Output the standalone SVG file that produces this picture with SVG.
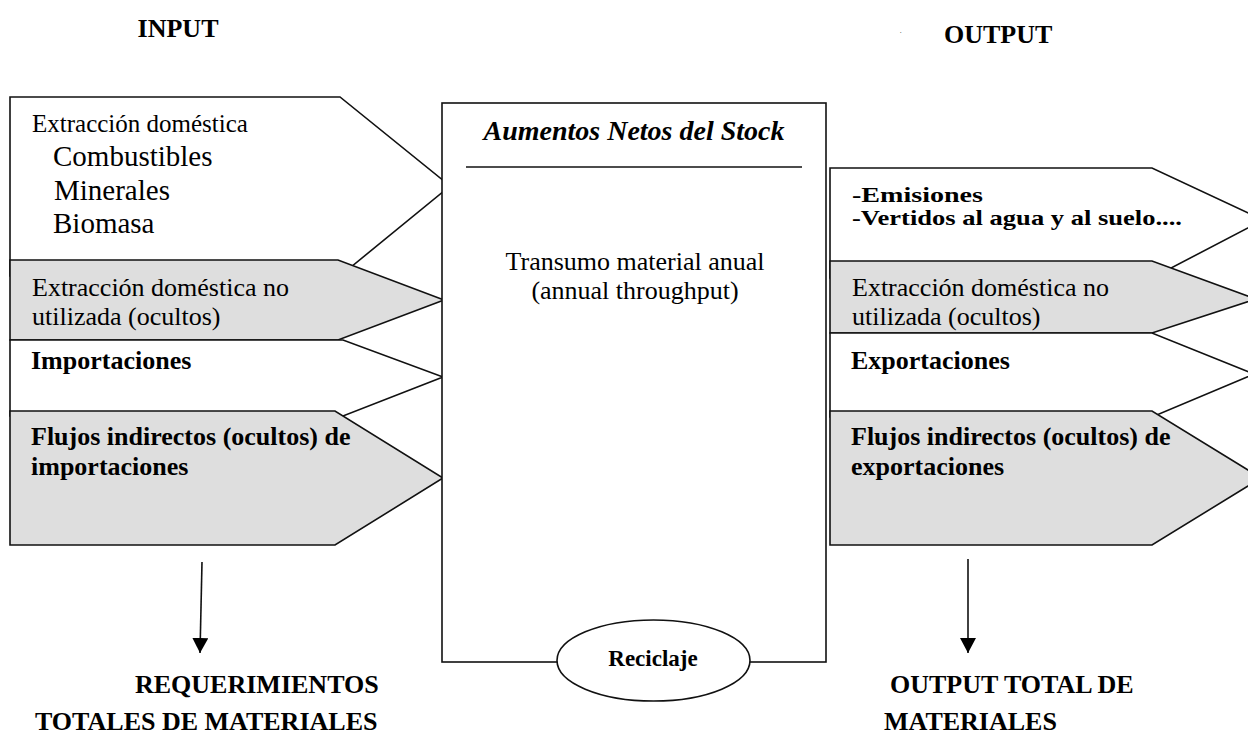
<svg xmlns="http://www.w3.org/2000/svg" width="1248" height="737" viewBox="0 0 1248 737">
<defs>
<style>
text{font-family:"Liberation Serif","Times New Roman",serif;fill:#000}
.shp{stroke:#111;stroke-width:1.6;stroke-linejoin:miter}
.w{fill:#fff}
.g{fill:#dedede}
.b{font-weight:bold}
.r25{font-size:25px}
.r26{font-size:26px}
.r29{font-size:29px}
.b26{font-size:26px;font-weight:bold}
.b22{font-size:22px;font-weight:bold}
.mid{text-anchor:middle}
.con{stroke:#111;stroke-width:1.6;fill:none}
</style>
<marker id="ah" markerUnits="userSpaceOnUse" markerWidth="16" markerHeight="18" refX="15" refY="8" orient="auto">
<path d="M0,0 L15,8 L0,16 z" fill="#000"/>
</marker>
</defs>
<rect width="1248" height="737" fill="#fff"/>

<g id="titles">
<text class="b26" x="137.6" y="37">INPUT</text>
<text class="b26" x="944" y="43">OUTPUT</text>
<text x="900" y="33" font-size="6" fill="#888">.</text>
</g>

<g id="in-domestica">
<polygon class="shp w" points="10,97 340,97 450,186 340,276 10,276"/>
<text class="r25" x="32" y="132">Extracción doméstica</text>
<text class="r29" x="53" y="166">Combustibles</text>
<text class="r29" x="54" y="200">Minerales</text>
<text class="r29" x="53" y="233">Biomasa</text>
</g>

<g id="in-no-utilizada">
<polygon class="shp g" points="10,260 338,260 444,300 338,340 10,340"/>
<text class="r26" x="32" y="296">Extracción doméstica no</text>
<text class="r26" x="32" y="325">utilizada (ocultos)</text>
</g>

<g id="in-importaciones">
<polygon class="shp w" points="10,340 343,340 443,377 343,416 10,416"/>
<text class="b26" x="31" y="369">Importaciones</text>
</g>

<g id="in-flujos">
<polygon class="shp g" points="10,411 335,411 443,478 335,545 10,545"/>
<text class="b26" x="31" y="445">Flujos indirectos (ocultos) de</text>
<text class="b26" x="31" y="475">importaciones</text>
</g>

<g id="centro">
<rect class="shp w" x="442" y="103" width="384" height="559"/>
<text class="mid" x="634" y="140" font-size="28" font-weight="bold" font-style="italic">Aumentos Netos del Stock</text>
<line class="con" x1="466" y1="167" x2="802" y2="167"/>
<text class="r26 mid" x="635" y="270">Transumo material anual</text>
<text class="r26 mid" x="635" y="299">(annual throughput)</text>
</g>

<g id="reciclaje">
<ellipse class="shp w" cx="653.5" cy="660.5" rx="96.5" ry="40.5"/>
<text class="mid b" x="653" y="666" font-size="23">Reciclaje</text>
</g>

<g id="out-emisiones">
<polygon class="shp w" points="830,168 1152,168 1263,220 1152,278 830,278"/>
<text class="b22" x="852" y="202" textLength="131" lengthAdjust="spacingAndGlyphs">-Emisiones</text>
<text class="b22" x="852" y="225" textLength="330" lengthAdjust="spacingAndGlyphs">-Vertidos al agua y al suelo....</text>
</g>

<g id="out-no-utilizada">
<polygon class="shp g" points="830,261 1152,261 1256,299 1152,333 830,333"/>
<text class="r26" x="852" y="296">Extracción doméstica no</text>
<text class="r26" x="852" y="325">utilizada (ocultos)</text>
</g>

<g id="out-exportaciones">
<polygon class="shp w" points="830,333 1152,333 1254,374 1152,417 830,417"/>
<text class="b26" x="851" y="369">Exportaciones</text>
</g>

<g id="out-flujos">
<polygon class="shp g" points="830,411 1152,411 1261,478 1152,545 830,545"/>
<text class="b26" x="851" y="445">Flujos indirectos (ocultos) de</text>
<text class="b26" x="851" y="475">exportaciones</text>
</g>

<g id="connectors">
<line class="con" x1="202" y1="562" x2="200" y2="653" marker-end="url(#ah)"/>
<line class="con" x1="968" y1="559" x2="968" y2="653" marker-end="url(#ah)"/>
</g>

<g id="tmr">
<text class="b26" x="135" y="693">REQUERIMIENTOS</text>
<text class="b26" x="35" y="730">TOTALES DE MATERIALES</text>
</g>

<g id="dmo">
<text class="b26" x="890" y="693">OUTPUT TOTAL DE</text>
<text class="b26" x="884" y="730">MATERIALES</text>
</g>
</svg>
